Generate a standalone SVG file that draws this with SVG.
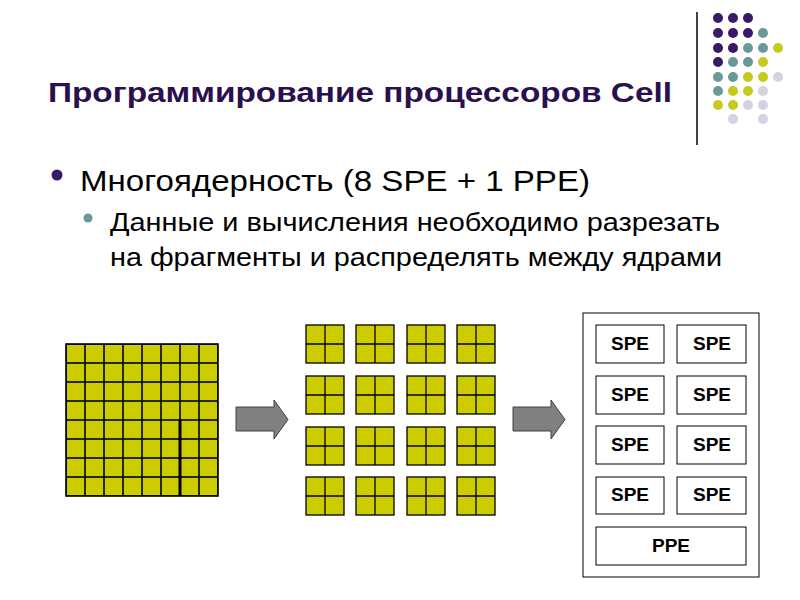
<svg xmlns="http://www.w3.org/2000/svg" width="800" height="600" viewBox="0 0 800 600">
<style>
.t{font-family:"Liberation Sans",Arial,sans-serif}
.g{fill:#cccc00;stroke:#000;stroke-width:1.3}
.b{fill:#fff;stroke:#000;stroke-width:1}
.l{font-family:"Liberation Sans",Arial,sans-serif;font-weight:bold;font-size:19px;text-anchor:middle}
.P{fill:#3a1a66}.T{fill:#6b9999}.Y{fill:#c8c81e}.G{fill:#d2d2e2}
.ar{fill:#808080;stroke:#404040;stroke-width:1}
</style>
<defs>
<pattern id="cells" x="66" y="344" width="19" height="19" patternUnits="userSpaceOnUse">
<rect width="19" height="19" fill="#cccc00" stroke="#000" stroke-width="1.6"/>
</pattern>
<g id="q"><rect width="38" height="38" class="g"/><path d="M19 0V38M0 19H38" stroke="#000" stroke-width="1.3"/></g>
</defs>
<rect width="800" height="600" fill="#fff"/>
<g id="deco">
<line x1="697" y1="12" x2="697" y2="145" stroke="#000" stroke-width="1.5"/>
<g>
<circle class="P" cx="718" cy="18" r="5"/><circle class="P" cx="733" cy="18" r="5"/><circle class="P" cx="748" cy="18" r="5"/>
<circle class="P" cx="718" cy="33" r="5"/><circle class="P" cx="733" cy="33" r="5"/><circle class="P" cx="748" cy="33" r="5"/><circle class="T" cx="763" cy="33" r="5"/>
<circle class="P" cx="718" cy="48" r="5"/><circle class="P" cx="733" cy="48" r="5"/><circle class="T" cx="748" cy="48" r="5"/><circle class="T" cx="763" cy="48" r="5"/><circle class="Y" cx="778" cy="48" r="5"/>
<circle class="P" cx="718" cy="62" r="5"/><circle class="T" cx="733" cy="62" r="5"/><circle class="T" cx="748" cy="62" r="5"/><circle class="Y" cx="763" cy="62" r="5"/>
<circle class="T" cx="718" cy="77" r="5"/><circle class="T" cx="733" cy="77" r="5"/><circle class="Y" cx="748" cy="77" r="5"/><circle class="Y" cx="763" cy="77" r="5"/><circle class="G" cx="778" cy="77" r="5"/>
<circle class="T" cx="718" cy="91" r="5"/><circle class="Y" cx="733" cy="91" r="5"/><circle class="Y" cx="748" cy="91" r="5"/><circle class="G" cx="763" cy="91" r="5"/>
<circle class="Y" cx="718" cy="105" r="5"/><circle class="Y" cx="733" cy="105" r="5"/><circle class="G" cx="748" cy="105" r="5"/><circle class="G" cx="763" cy="105" r="5"/>
<circle class="G" cx="733" cy="119" r="5"/><circle class="G" cx="763" cy="119" r="5"/>
</g>
</g>
<g id="title"><text x="48" y="102" class="t" font-size="28" font-weight="bold" fill="#2b1050" textLength="624" lengthAdjust="spacingAndGlyphs">Программирование процессоров Cell</text></g>
<g id="bullets">
<circle cx="57" cy="175" r="5.5" fill="#3a1a66"/>
<text x="80" y="191" class="t" font-size="29" textLength="510" lengthAdjust="spacingAndGlyphs">Многоядерность (8 SPE + 1 PPE)</text>
<circle cx="88" cy="218" r="4.5" fill="#6b9999"/>
<text x="110" y="231" class="t" font-size="25" textLength="610" lengthAdjust="spacingAndGlyphs">Данные и вычисления необходимо разрезать</text>
<text x="110" y="266" class="t" font-size="25" textLength="612" lengthAdjust="spacingAndGlyphs">на фрагменты и распределять между ядрами</text>
</g>
<g id="grid">
<rect x="66" y="344" width="152" height="152" fill="url(#cells)" stroke="#000" stroke-width="1.6"/>
<line x1="180" y1="420" x2="180" y2="496" stroke="#000" stroke-width="3"/>
</g>
<g id="blocks">
<use href="#q" x="306" y="325"/><use href="#q" x="356" y="325"/><use href="#q" x="407" y="325"/><use href="#q" x="457" y="325"/>
<use href="#q" x="306" y="376"/><use href="#q" x="356" y="376"/><use href="#q" x="407" y="376"/><use href="#q" x="457" y="376"/>
<use href="#q" x="306" y="427"/><use href="#q" x="356" y="427"/><use href="#q" x="407" y="427"/><use href="#q" x="457" y="427"/>
<use href="#q" x="306" y="477"/><use href="#q" x="356" y="477"/><use href="#q" x="407" y="477"/><use href="#q" x="457" y="477"/>
</g>
<g id="connectors">
<path class="ar" d="M236 407H274V400L288 419.5L274 439V431H236Z"/>
<path class="ar" d="M513 407H551V400L565 419.5L551 439V431H513Z"/>
</g>
<g id="cell">
<rect x="583" y="313" width="176" height="264" class="b"/>
<g id="spe1"><rect x="596" y="325" width="68" height="38" class="b"/><text x="630" y="350" class="l">SPE</text></g>
<g id="spe2"><rect x="677" y="325" width="69" height="38" class="b"/><text x="712" y="350" class="l">SPE</text></g>
<g id="spe3"><rect x="596" y="376" width="68" height="38" class="b"/><text x="630" y="401" class="l">SPE</text></g>
<g id="spe4"><rect x="677" y="376" width="69" height="38" class="b"/><text x="712" y="401" class="l">SPE</text></g>
<g id="spe5"><rect x="596" y="426" width="68" height="38" class="b"/><text x="630" y="451" class="l">SPE</text></g>
<g id="spe6"><rect x="677" y="426" width="69" height="38" class="b"/><text x="712" y="451" class="l">SPE</text></g>
<g id="spe7"><rect x="596" y="477" width="68" height="37" class="b"/><text x="630" y="501" class="l">SPE</text></g>
<g id="spe8"><rect x="677" y="477" width="69" height="37" class="b"/><text x="712" y="501" class="l">SPE</text></g>
<g id="ppe"><rect x="596" y="527" width="150" height="38" class="b"/><text x="671" y="552" class="l">PPE</text></g>
</g>
</svg>
